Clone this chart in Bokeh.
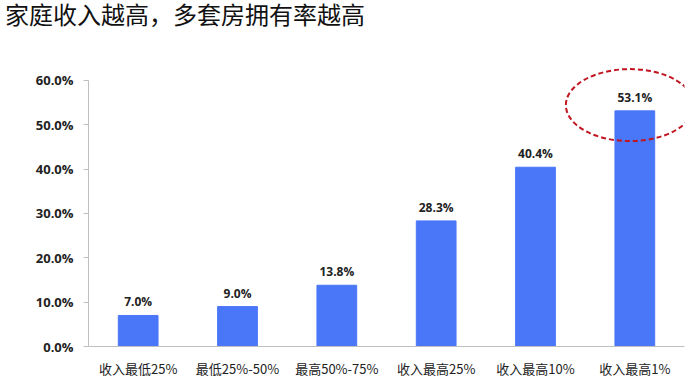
from bokeh.plotting import figure
from bokeh.layouts import column
from bokeh.models import ColumnDataSource, PrintfTickFormatter, FixedTicker, LabelSet, Div
from bokeh.core.properties import value
from bokeh.transform import dodge
from bokeh.embed import file_html
from bokeh.resources import INLINE

categories = ["收入最低25%", "最低25%-50%", "最高50%-75%", "收入最高25%", "收入最高10%", "收入最高1%"]
values = [7.0, 9.0, 13.8, 28.3, 40.4, 53.1]
labels = ["7.0%", "9.0%", "13.8%", "28.3%", "40.4%", "53.1%"]
y_ticks = [0, 10, 20, 30, 40, 50, 60]
title_text = "家庭收入越高，多套房拥有率越高"

src = ColumnDataSource(dict(cat=categories, val=values, lab=labels))
hl_src = ColumnDataSource(dict(cat=[categories[-1]], val=[values[-1] + 1.3]))

TITLE_H = 30
W, H = 686, 340

title = Div(text=title_text, width=W, height=TITLE_H,
            styles={"font-size": "24px", "font-family": "Noto Sans CJK SC",
                    "color": "#111111", "line-height": "18px",
                    "padding-top": "0px", "padding-left": "0px", "white-space": "nowrap"})

p = figure(x_range=categories, y_range=(0, 64), width=W, height=H,
           output_backend="svg", toolbar_location=None,
           min_border_left=88, min_border_right=2, min_border_bottom=22,
           min_border_top=22)

p.vbar(x="cat", top="val", width=0.4, source=src, color="#4A76F8")

p.add_layout(LabelSet(x="cat", y="val", text="lab", source=src, text_align="center",
                      y_offset=5, text_font_size=value("12px"), text_font_style=value("bold"),
                      text_font=value("Open Sans"), text_color=value("#222222")))

# highlight ellipse around the last bar's label
p.ellipse(x=dodge("cat", -0.05, range=p.x_range), y="val", source=hl_src,
          width=128, height=72,
          width_units="screen", height_units="screen", fill_alpha=0,
          line_color="#C0141E", line_width=2, line_dash="5 3")

p.xgrid.visible = False
p.ygrid.visible = False
p.outline_line_color = None

p.yaxis.bounds = (0, 60)
p.yaxis.ticker = FixedTicker(ticks=y_ticks)
p.yaxis.formatter = PrintfTickFormatter(format="%.1f%%")
p.yaxis.major_label_text_font = "Open Sans"
p.yaxis.major_label_text_font_style = "bold"
p.yaxis.major_label_text_font_size = "13px"
p.yaxis.major_label_text_color = "#222222"
p.yaxis.axis_line_color = "#BFBFBF"
p.yaxis.major_tick_line_color = "#BFBFBF"
p.yaxis.major_tick_out = 5
p.yaxis.major_tick_in = 0
p.yaxis.minor_tick_line_color = None
p.yaxis.major_label_standoff = 10

p.xaxis.axis_line_color = "#BFBFBF"
p.xaxis.major_tick_line_color = None
p.xaxis.major_label_text_font = "Noto Sans CJK SC"
p.xaxis.major_label_text_font_size = "13px"
p.xaxis.major_label_text_color = "#222222"
p.xaxis.major_label_standoff = 6

layout = column(title, p, spacing=0)
open("out.html", "w").write(file_html(layout, INLINE))
